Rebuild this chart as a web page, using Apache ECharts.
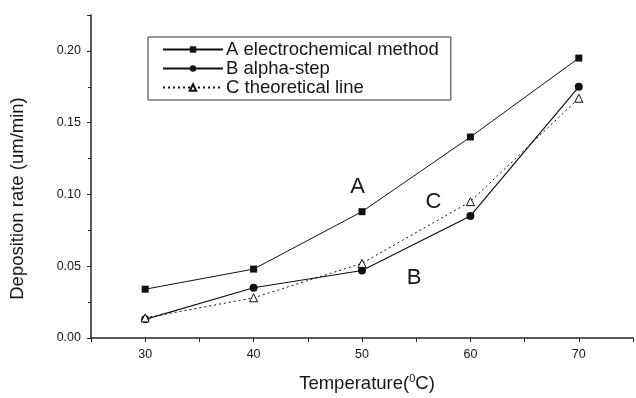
<!DOCTYPE html>
<html><head><meta charset="utf-8">
<script src="https://cdn.jsdelivr.net/npm/echarts@6/dist/echarts.min.js"></script>
<style>html,body{margin:0;padding:0;background:#fff}#c{width:636px;height:398px}</style>
</head><body><div id="c"></div>
<script>
var temps = [30, 40, 50, 60, 70];
var seriesA = [0.034, 0.048, 0.088, 0.140, 0.195];
var seriesB = [0.013, 0.035, 0.047, 0.085, 0.175];
var seriesC = [0.014, 0.028, 0.052, 0.095, 0.167];
var names = ['A electrochemical method', 'B alpha-step', 'C theoretical line'];
var curveLabels = [{t:'A', x:49.6, y:0.105}, {t:'C', x:56.6, y:0.095}, {t:'B', x:54.8, y:0.042}];
var xTickLabels = [30, 40, 50, 60, 70];
var yTickLabels = ['0.00', '0.05', '0.10', '0.15', '0.20'];

function pairs(v){ return temps.map(function(t,i){ return [t, v[i]]; }); }
var font = 'Liberation Sans, Arial, sans-serif';
var ink = '#161616';
var chart = echarts.init(document.getElementById('c'), null, {renderer:'canvas'});
var option = {
  backgroundColor:'#fff',
  animation:false,
  textStyle:{fontFamily:font, color:ink},
  grid:{left:90, right:0, top:15, bottom:57},
  legend:{
    left:148, top:37, orient:'vertical', itemGap:0, itemWidth:60, itemHeight:8,
    padding:[3,12,3,14], borderColor:'#333', borderWidth:1,
    textStyle:{fontSize:18.5, lineHeight:17, color:ink, fontFamily:font, padding:[0,0,0,-2]},
    data:names
  },
  xAxis:{
    type:'value', min:25, max:75, interval:5,
    name:'Temperature({s|0}C)', nameLocation:'middle', nameGap:35,
    nameTextStyle:{fontSize:18.5, color:ink, fontFamily:font, padding:[0,0,0,10], rich:{s:{fontSize:11, verticalAlign:'top', padding:[0,0,10,0], color:ink, fontFamily:font}}},
    axisLine:{lineStyle:{color:'#222', width:1.5}},
    axisTick:{length:4, lineStyle:{color:'#222'}},
    axisLabel:{fontSize:12.5, color:ink, margin:10, formatter:function(v){ return xTickLabels.indexOf(v)>=0 ? String(v) : ''; }},
    splitLine:{show:false}
  },
  yAxis:{
    type:'value', min:0, max:0.225, interval:0.05,
    name:'Deposition rate (um/min)', nameLocation:'middle', nameGap:64,
    nameTextStyle:{fontSize:18.5, color:ink, fontFamily:font, padding:[0,44,0,0]},
    axisLine:{show:true, lineStyle:{color:'#222', width:1.5}},
    axisTick:{show:true, length:4, lineStyle:{color:'#222'}},
    minorTick:{show:true, splitNumber:2, length:3, lineStyle:{color:'#222'}},
    axisLabel:{fontSize:12.5, color:ink, margin:10, formatter:function(v){ var s=v.toFixed(2); return yTickLabels.indexOf(s)>=0 && Math.abs(v-parseFloat(s))<1e-9 ? s : ''; }},
    splitLine:{show:false}
  },
  series:[
    {name:names[0], type:'line', data:pairs(seriesA), symbol:'rect', symbolSize:7,
     lineStyle:{color:'#111', width:1}, itemStyle:{color:'#111'}},
    {name:names[1], type:'line', data:pairs(seriesB), symbol:'circle', symbolSize:8,
     lineStyle:{color:'#111', width:1.2}, itemStyle:{color:'#111'}},
    {name:names[2], type:'line', data:pairs(seriesC), symbol:'triangle', symbolSize:8,
     lineStyle:{color:'#111', width:1, type:[2,3]}, itemStyle:{color:'#fff', borderColor:'#111', borderWidth:1}}
  ]
};
chart.setOption(option);
var g = curveLabels.map(function(l){
  var p = chart.convertToPixel({gridIndex:0}, [l.x, l.y]);
  return {type:'text', x:p[0], y:p[1], style:{text:l.t, fill:ink, font:'22px '+font, align:'center', verticalAlign:'middle'}};
});
chart.setOption({graphic:g});
</script></body></html>
